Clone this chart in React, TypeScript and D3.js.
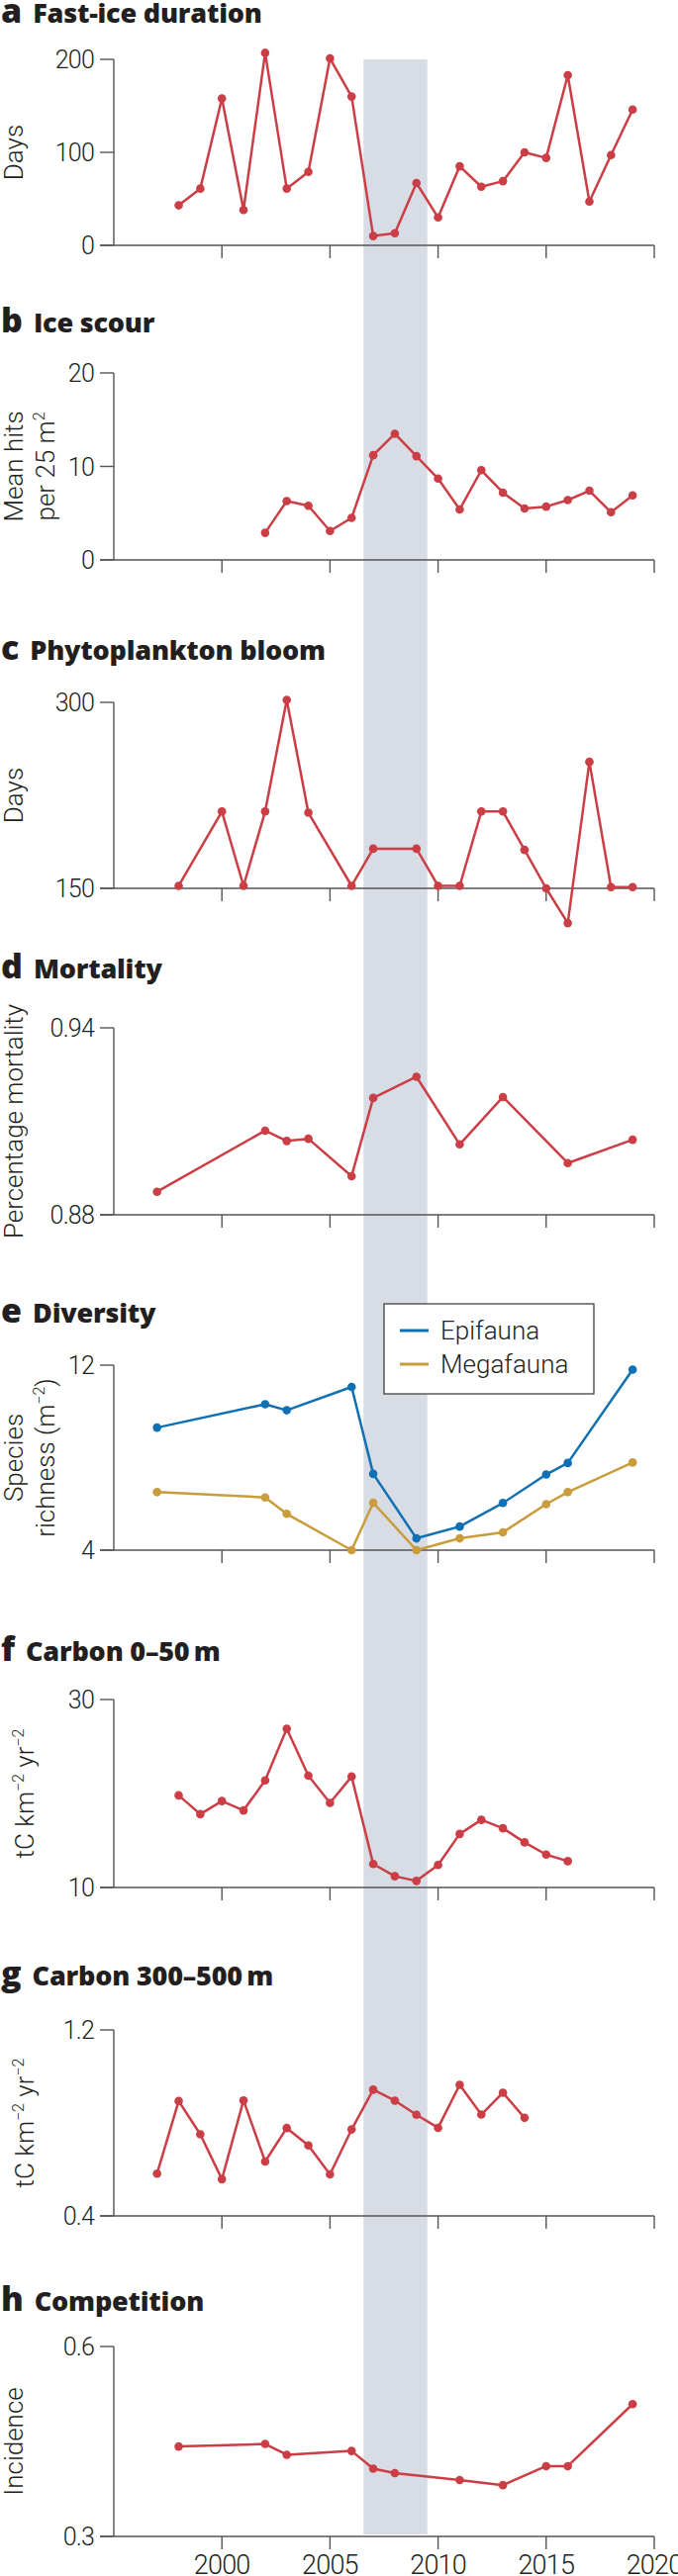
import React from 'react';
import * as d3 from 'd3';

// ---------- DATA ----------
const fastIceYears = [1998, 1999, 2000, 2001, 2002, 2003, 2004, 2005, 2006, 2007, 2008, 2009, 2010, 2011, 2012, 2013, 2014, 2015, 2016, 2017, 2018, 2019];
const fastIceDays = [43, 61, 158, 38, 207, 61, 79, 201, 160, 10, 13, 67, 30, 85, 63, 69, 100, 94, 183, 47, 97, 146];

const iceScourYears = [2002, 2003, 2004, 2005, 2006, 2007, 2008, 2009, 2010, 2011, 2012, 2013, 2014, 2015, 2016, 2017, 2018, 2019];
const iceScourHits = [2.9, 6.3, 5.8, 3.1, 4.5, 11.2, 13.5, 11.1, 8.7, 5.4, 9.6, 7.2, 5.5, 5.7, 6.4, 7.4, 5.1, 6.9];

const bloomYears = [1998, 2000, 2001, 2002, 2003, 2004, 2006, 2007, 2009, 2010, 2011, 2012, 2013, 2014, 2015, 2016, 2017, 2018, 2019];
const bloomDays = [152, 212, 152, 212, 302, 211, 152, 182, 182, 152, 152, 212, 212, 181, 150, 122, 252, 151, 151];

const mortalityYears = [1997, 2002, 2003, 2004, 2006, 2007, 2009, 2011, 2013, 2016, 2019];
const mortalityPct = [0.8874, 0.907, 0.9037, 0.9044, 0.8924, 0.9175, 0.9243, 0.9026, 0.9178, 0.8966, 0.9041];

const diversityYears = [1997, 2002, 2003, 2006, 2007, 2009, 2011, 2013, 2015, 2016, 2019];
const epifaunaRichness = [9.3, 10.31, 10.05, 11.06, 7.3, 4.51, 5.02, 6.04, 7.27, 7.77, 11.81];
const megafaunaRichness = [6.51, 6.28, 5.57, 4.0, 6.05, 4.0, 4.51, 4.77, 5.99, 6.51, 7.79];

const carbonShallowYears = [1998, 1999, 2000, 2001, 2002, 2003, 2004, 2005, 2006, 2007, 2008, 2009, 2010, 2011, 2012, 2013, 2014, 2015, 2016];
const carbonShallow = [19.8, 17.8, 19.2, 18.2, 21.4, 26.9, 21.9, 19.0, 21.8, 12.5, 11.2, 10.7, 12.4, 15.7, 17.2, 16.3, 14.8, 13.5, 12.8];

const carbonDeepYears = [1997, 1998, 1999, 2000, 2001, 2002, 2003, 2004, 2005, 2006, 2007, 2008, 2009, 2010, 2011, 2012, 2013, 2014];
const carbonDeep = [0.582, 0.894, 0.751, 0.558, 0.897, 0.634, 0.778, 0.703, 0.579, 0.772, 0.943, 0.896, 0.835, 0.779, 0.964, 0.836, 0.93, 0.822];

const competitionYears = [1998, 2002, 2003, 2006, 2007, 2008, 2011, 2013, 2015, 2016, 2019];
const competitionIncidence = [0.442, 0.446, 0.429, 0.435, 0.407, 0.4, 0.389, 0.381, 0.411, 0.411, 0.509];

const xDomain = [1995, 2020];
const xTickYears = [2000, 2005, 2010, 2015, 2020];
const bandYears = [2006.55, 2009.5];

const legendLabels = ['Epifauna', 'Megafauna'];

// ---------- STYLE ----------
const RED = '#cc3e46';
const BLUE = '#0f71b3';
const GOLD = '#c99c3c';
const BAND = '#d7dce5';
const AXIS = '#555555';
const TEXT = '#231f20';
const W = 685;
const H = 2604;

type Seg = { t: string; sup?: boolean };
type Series = { years: number[]; values: number[]; color: string };
type Panel = {
  letter: string;
  title: string;
  titleY: number;
  top: number;
  bottom: number;
  domain: [number, number];
  ticks: number[];
  fmt: (v: number) => string;
  ylabel: Seg[][];
  ylabelX: number[];
  series: Series[];
  legend?: boolean;
};

const panels: Panel[] = [
  {
    letter: 'a', title: 'Fast-ice duration', titleY: 23, top: 60, bottom: 248,
    domain: [0, 200], ticks: [0, 100, 200], fmt: (v) => String(v),
    ylabel: [[{ t: 'Days' }]], ylabelX: [23],
    series: [{ years: fastIceYears, values: fastIceDays, color: RED }],
  },
  {
    letter: 'b', title: 'Ice scour', titleY: 336, top: 377, bottom: 566,
    domain: [0, 20], ticks: [0, 10, 20], fmt: (v) => String(v),
    ylabel: [[{ t: 'Mean hits' }], [{ t: 'per 25 m' }, { t: '2', sup: true }]], ylabelX: [23, 55],
    series: [{ years: iceScourYears, values: iceScourHits, color: RED }],
  },
  {
    letter: 'c', title: 'Phytoplankton bloom', titleY: 667, top: 710, bottom: 898,
    domain: [150, 300], ticks: [150, 300], fmt: (v) => String(v),
    ylabel: [[{ t: 'Days' }]], ylabelX: [23],
    series: [{ years: bloomYears, values: bloomDays, color: RED }],
  },
  {
    letter: 'd', title: 'Mortality', titleY: 989, top: 1039, bottom: 1228,
    domain: [0.88, 0.94], ticks: [0.88, 0.94], fmt: (v) => v.toFixed(2),
    ylabel: [[{ t: 'Percentage mortality' }]], ylabelX: [23],
    series: [{ years: mortalityYears, values: mortalityPct, color: RED }],
  },
  {
    letter: 'e', title: 'Diversity', titleY: 1337, top: 1380, bottom: 1567,
    domain: [4, 12], ticks: [4, 12], fmt: (v) => String(v),
    ylabel: [[{ t: 'Species' }], [{ t: 'richness (m' }, { t: '−2', sup: true }, { t: ')' }]], ylabelX: [23, 55],
    series: [
      { years: diversityYears, values: epifaunaRichness, color: BLUE },
      { years: diversityYears, values: megafaunaRichness, color: GOLD },
    ],
    legend: true,
  },
  {
    letter: 'f', title: 'Carbon 0–50\u2009m', titleY: 1679, top: 1718, bottom: 1908,
    domain: [10, 30], ticks: [10, 30], fmt: (v) => String(v),
    ylabel: [[{ t: 'tC km' }, { t: '−2', sup: true }, { t: ' yr' }, { t: '−2', sup: true }]], ylabelX: [34],
    series: [{ years: carbonShallowYears, values: carbonShallow, color: RED }],
  },
  {
    letter: 'g', title: 'Carbon 300–500\u2009m', titleY: 2007, top: 2052, bottom: 2240,
    domain: [0.4, 1.2], ticks: [0.4, 1.2], fmt: (v) => v.toFixed(1),
    ylabel: [[{ t: 'tC km' }, { t: '−2', sup: true }, { t: ' yr' }, { t: '−2', sup: true }]], ylabelX: [34],
    series: [{ years: carbonDeepYears, values: carbonDeep, color: RED }],
  },
  {
    letter: 'h', title: 'Competition', titleY: 2336, top: 2372, bottom: 2564,
    domain: [0.3, 0.6], ticks: [0.3, 0.6], fmt: (v) => v.toFixed(1),
    ylabel: [[{ t: 'Incidence' }]], ylabelX: [23],
    series: [{ years: competitionYears, values: competitionIncidence, color: RED }],
  },
];

const x = d3.scaleLinear().domain(xDomain).range([115, 661]);
const LABEL_FONT = 'Roboto, "Noto Sans", sans-serif';
const TITLE_FONT = '"Open Sans", Roboto, sans-serif';

function renderSegs(segs: Seg[]) {
  const out: React.ReactNode[] = [];
  let raised = false;
  segs.forEach((s, i) => {
    if (s.sup) {
      out.push(<tspan key={i} dy={-10} fontSize={16}>{s.t}</tspan>);
      raised = true;
    } else {
      out.push(<tspan key={i} dy={raised ? 10 : 0}>{s.t}</tspan>);
      raised = false;
    }
  });
  return out;
}

function PanelView({ p }: { p: Panel }) {
  const y = d3.scaleLinear().domain(p.domain).range([p.bottom, p.top]);
  const mid = (p.top + p.bottom) / 2;
  return (
    <g>
      {/* title */}
      <text x={1} y={p.titleY} fill={TEXT} fontFamily={TITLE_FONT} fontWeight={800}>
        <tspan fontSize={34}>{p.letter}</tspan>
        <tspan dx={11} fontSize={27} letterSpacing={-0.2}>{p.title}</tspan>
      </text>
      {/* y axis label */}
      {p.ylabel.map((line, i) => (
        <text
          key={i}
          transform={`translate(${p.ylabelX[i]},${mid}) rotate(-90)`}
          textAnchor="middle"
          fontFamily={LABEL_FONT}
          fontWeight={300}
          fontSize={26}
          fill={TEXT}
        >
          {renderSegs(line)}
        </text>
      ))}
      {/* axes */}
      <line x1={x(xDomain[0])} x2={x(xDomain[0])} y1={p.top} y2={p.bottom} stroke={AXIS} strokeWidth={1.4} />
      <line x1={x(xDomain[0]) - 14} x2={x(xDomain[1])} y1={p.bottom} y2={p.bottom} stroke={AXIS} strokeWidth={1.4} />
      {p.ticks.map((t) => (
        <g key={t}>
          <line x1={x(xDomain[0]) - 14} x2={x(xDomain[0])} y1={y(t)} y2={y(t)} stroke={AXIS} strokeWidth={1.4} />
          <text
            x={x(xDomain[0]) - 20}
            y={y(t)}
            dy="0.36em"
            textAnchor="end"
            fontFamily={LABEL_FONT}
            fontWeight={300}
            fontSize={25}
            letterSpacing={-0.8}
            fill={TEXT}
          >
            {p.fmt(t)}
          </text>
        </g>
      ))}
      {xTickYears.map((yr) => (
        <line key={yr} x1={x(yr)} x2={x(yr)} y1={p.bottom} y2={p.bottom + 13} stroke={AXIS} strokeWidth={1.4} />
      ))}
      {/* series */}
      {p.series.map((s, si) => {
        const pts = s.years.map((yr, i) => [x(yr), y(s.values[i])] as [number, number]);
        const path = d3.line()(pts) || '';
        return (
          <g key={si}>
            <path d={path} fill="none" stroke={s.color} strokeWidth={2.5} strokeLinejoin="round" />
            {pts.map((pt, i) => (
              <circle key={i} cx={pt[0]} cy={pt[1]} r={4.3} fill={s.color} />
            ))}
          </g>
        );
      })}
      {p.legend && (
        <g>
          <rect x={388} y={1318} width={212} height={91} fill="#fff" stroke="#333" strokeWidth={1.2} />
          {legendLabels.map((lab, i) => {
            const ly = 1345 + i * 34;
            return (
              <g key={lab}>
                <line x1={404} x2={433} y1={ly} y2={ly} stroke={i === 0 ? BLUE : GOLD} strokeWidth={3} />
                <text x={445} y={ly} dy="0.36em" fontFamily={LABEL_FONT} fontWeight={300} fontSize={26} fill={TEXT}>
                  {lab}
                </text>
              </g>
            );
          })}
        </g>
      )}
    </g>
  );
}

export default function App() {
  const bandTop = panels[0].top;
  const bandBottom = panels[panels.length - 1].bottom - 2;
  return (
    <svg
      width={W}
      height={H}
      viewBox={`0 0 ${W} ${H}`}
      style={{ position: 'absolute', left: 0, top: 0, background: '#fff' }}
    >
      <rect
        x={x(bandYears[0])}
        y={bandTop}
        width={x(bandYears[1]) - x(bandYears[0])}
        height={bandBottom - bandTop}
        fill={BAND}
      />
      {panels.map((p) => (
        <PanelView key={p.letter} p={p} />
      ))}
      {xTickYears.map((yr) => (
        <text
          key={yr}
          x={x(yr)}
          y={2602}
          textAnchor="middle"
          fontFamily={LABEL_FONT}
          fontWeight={300}
          fontSize={27}
          letterSpacing={-0.8}
          fill={TEXT}
        >
          {yr}
        </text>
      ))}
    </svg>
  );
}
